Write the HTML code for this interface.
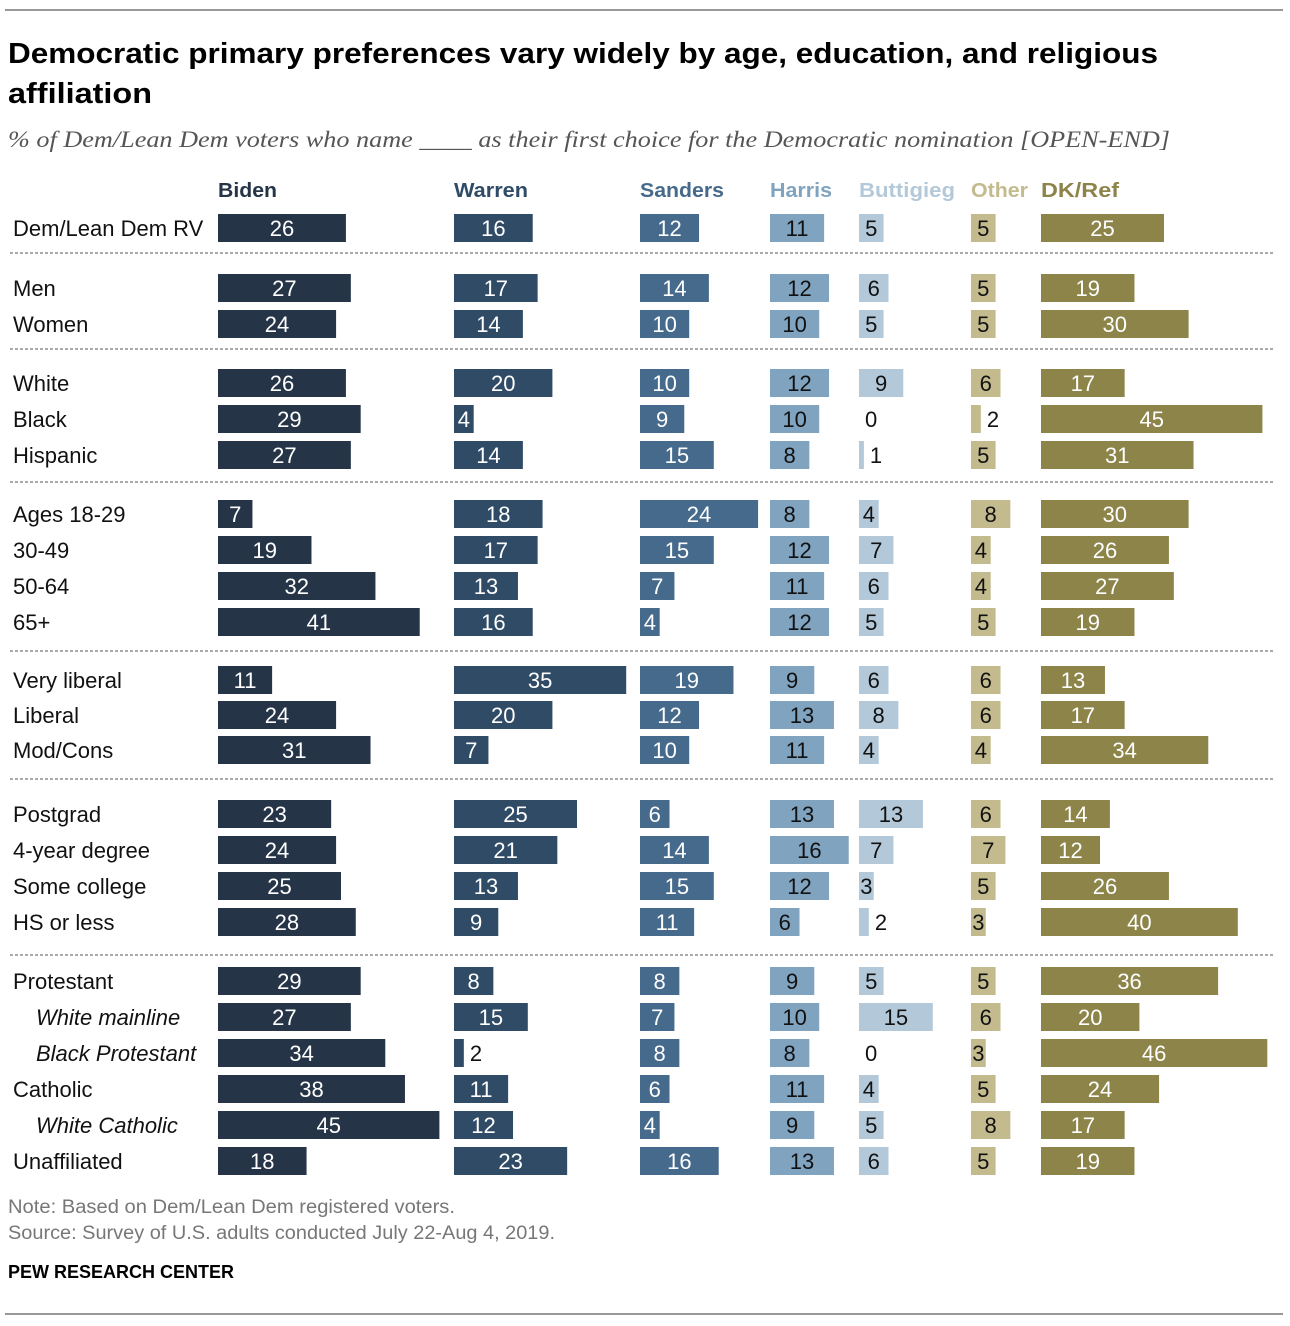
<!DOCTYPE html>
<html><head><meta charset="utf-8"><style>
body{margin:0;background:#fff;font-family:"Liberation Sans",sans-serif}
svg{display:block}
</style></head><body>
<svg id="c" width="1290" height="1326" xmlns="http://www.w3.org/2000/svg">
<line x1="5" y1="10" x2="1283" y2="10" stroke="#333" stroke-width="1"/>
<text x="8" y="63" font-size="29" font-weight="bold" fill="#000" textLength="1150" lengthAdjust="spacingAndGlyphs">Democratic primary preferences vary widely by age, education, and religious</text>
<text x="8" y="103" font-size="29" font-weight="bold" fill="#000" textLength="144" lengthAdjust="spacingAndGlyphs">affiliation</text>
<text x="8" y="147" font-size="23" font-style="italic" fill="#555" font-family="Liberation Serif,serif" textLength="1162" lengthAdjust="spacingAndGlyphs">% of Dem/Lean Dem voters who name ____ as their first choice for the Democratic nomination [OPEN-END]</text>
<g id="g"></g>
<text x="8" y="1213" font-size="19" fill="#777" textLength="447" lengthAdjust="spacingAndGlyphs">Note: Based on Dem/Lean Dem registered voters.</text>
<text x="8" y="1239" font-size="19" fill="#777" textLength="547" lengthAdjust="spacingAndGlyphs">Source: Survey of U.S. adults conducted July 22-Aug 4, 2019.</text>
<text x="8" y="1278" font-size="18" font-weight="bold" fill="#000" textLength="226" lengthAdjust="spacingAndGlyphs">PEW RESEARCH CENTER</text>
<line x1="5" y1="1314" x2="1283" y2="1314" stroke="#333" stroke-width="1"/>
</svg>
<script>
const categories=["Dem/Lean Dem RV","Men","Women","White","Black","Hispanic","Ages 18-29","30-49","50-64","65+","Very liberal","Liberal","Mod/Cons","Postgrad","4-year degree","Some college","HS or less","Protestant","White mainline","Black Protestant","Catholic","White Catholic","Unaffiliated"];
const italicRows=[18,19,21];
const series=["Biden","Warren","Sanders","Harris","Buttigieg","Other","DK/Ref"];
const biden=[26,27,24,26,29,27,7,19,32,41,11,24,31,23,24,25,28,29,27,34,38,45,18];
const warren=[16,17,14,20,4,14,18,17,13,16,35,20,7,25,21,13,9,8,15,2,11,12,23];
const sanders=[12,14,10,10,9,15,24,15,7,4,19,12,10,6,14,15,11,8,7,8,6,4,16];
const harris=[11,12,10,12,10,8,8,12,11,12,9,13,11,13,16,12,6,9,10,8,11,9,13];
const buttigieg=[5,6,5,9,0,1,4,7,6,5,6,8,4,13,7,3,2,5,15,0,4,5,6];
const other=[5,5,5,6,2,5,8,4,4,5,6,6,4,6,7,5,3,5,6,3,5,8,5];
const dkref=[25,19,30,17,45,31,30,26,27,19,13,17,34,14,12,26,40,36,20,46,24,17,19];
const values=[biden,warren,sanders,harris,buttigieg,other,dkref];
const colStart=[218,454,640,770,859,971,1041];
const colors=["#253447","#2f4b66","#456a8c","#80a3c0","#b3c9da","#c3bb8e","#8c8449"];
const txtColors=["#fff","#fff","#fff","#111","#111","#111","#fff"];
const rowY=[228,288,324,383,419,455,514,550,586,622,680,715,750,814,850,886,922,981,1017,1053,1089,1125,1161];
const dividers=[253,349,482,651,779,955];
const pxPerUnit=4.92,barH=28;
const x=v=>v*pxPerUnit;
const g=document.getElementById('g'),NS="http://www.w3.org/2000/svg";
function mk(t,a){const e=document.createElementNS(NS,t);for(const k in a)e.setAttribute(k,a[k]);g.appendChild(e);return e;}
const headW=[59,74,84,62,96,57,78];
series.forEach((s,j)=>{
 const t=mk('text',{x:colStart[j],y:197,'font-size':20,'font-weight':'bold',fill:colors[j],textLength:headW[j],lengthAdjust:'spacingAndGlyphs'});
 
 
 t.textContent=s;
});
dividers.forEach((y,i)=>{
 const l=mk('line',{x1:10,x2:1275,y1:y,y2:y,stroke:'#555','stroke-dasharray':'3,2','stroke-width':1});
 
 
});
categories.forEach((c,i)=>{
 const it=italicRows.includes(i);
 const t=mk('text',{x:it?36:13,y:rowY[i]+8,'font-size':22,fill:'#111','font-style':it?'italic':'normal'});
 
 
 t.textContent=c;
 values.forEach((arr,j)=>{
  const v=arr[i],w=x(v);
  if(v>0){const r=mk('rect',{x:colStart[j],y:rowY[i]-barH/2,width:w,height:barH,fill:colors[j]});
   
   }
  const inside=v>=3;
  const tx=mk('text',{x:inside?colStart[j]+w/2:colStart[j]+w+6,y:rowY[i]+8,'font-size':22,fill:inside?txtColors[j]:'#111','text-anchor':inside?'middle':'start'});
  
  
  tx.textContent=v;
 });
});
</script>
</body></html>
